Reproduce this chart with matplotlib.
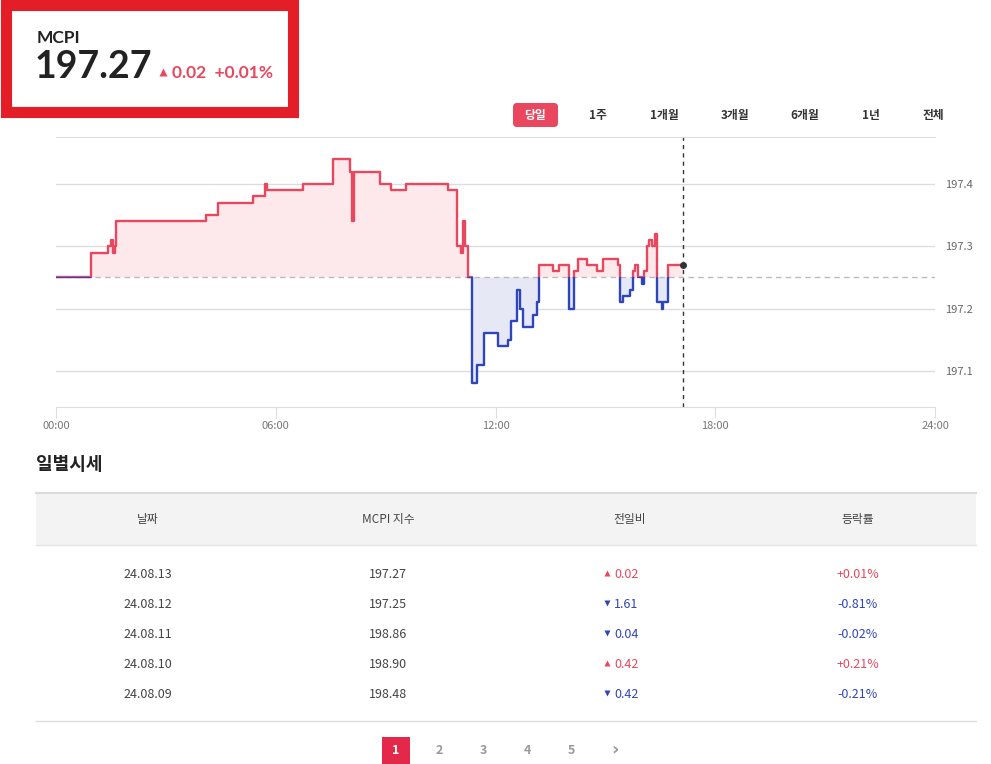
import matplotlib
matplotlib.use('Agg')
import matplotlib.pyplot as plt
from matplotlib.patches import Rectangle, FancyBboxPatch

plt.rcParams['font.family'] = ['Noto Sans CJK KR', 'DejaVu Sans']

# ---- data ----
times = [0.00, 0.95, 1.43, 1.50, 1.55, 1.60, 1.64, 4.10, 4.41, 5.39, 5.71, 5.75,
         6.75, 7.57, 8.03, 8.09, 8.14, 8.85, 9.16, 9.55, 10.71, 10.96, 11.05,
         11.12, 11.18, 11.26, 11.36, 11.50, 11.69, 12.08, 12.33, 12.41, 12.60,
         12.66, 12.75, 13.03, 13.12, 13.20, 13.56, 13.73, 14.02, 14.15, 14.24,
         14.49, 14.76, 14.93, 15.34, 15.40, 15.49, 15.67, 15.76, 15.81, 15.90,
         16.00, 16.06, 16.13, 16.20, 16.26, 16.35, 16.42, 16.54, 16.57, 16.70,
         17.13]
values = [197.25, 197.29, 197.30, 197.31, 197.29, 197.30, 197.34, 197.35, 197.37,
          197.38, 197.40, 197.39, 197.40, 197.44, 197.42, 197.34, 197.42, 197.40,
          197.39, 197.40, 197.39, 197.30, 197.29, 197.34, 197.30, 197.25, 197.08,
          197.11, 197.16, 197.14, 197.15, 197.18, 197.23, 197.20, 197.17, 197.19,
          197.21, 197.27, 197.26, 197.27, 197.20, 197.26, 197.28, 197.27, 197.26,
          197.28, 197.27, 197.21, 197.22, 197.23, 197.26, 197.27, 197.25, 197.24,
          197.26, 197.30, 197.31, 197.30, 197.32, 197.21, 197.20, 197.21, 197.27,
          197.27]
base_value = 197.25
current_time = 17.13
current_value = 197.27
change = 0.02
change_pct = 0.01

tab_labels = ['당일', '1주', '1개월', '3개월', '6개월', '1년', '전체']
x_ticks = [0, 6, 12, 18, 24]
x_tick_labels = ['00:00', '06:00', '12:00', '18:00', '24:00']
y_ticks = [197.1, 197.2, 197.3, 197.4]

table_header = ['날짜', 'MCPI 지수', '전일비', '등락률']
dates = ['24.08.13', '24.08.12', '24.08.11', '24.08.10', '24.08.09']
closes = [197.27, 197.25, 198.86, 198.90, 198.48]
diffs = [0.02, -1.61, -0.04, 0.42, -0.42]
pcts = [0.01, -0.81, -0.02, 0.21, -0.21]
pages = ['1', '2', '3', '4', '5', '›']

RED = '#e8475e'
PINK = '#fde8ec'
BLUE = '#2e45bb'
BLUE_FILL = '#e6e8f6'
W, H = 991, 764

fig = plt.figure(figsize=(W / 100, H / 100), dpi=100)
bg = fig.add_axes([0, 0, 1, 1])
bg.set_xlim(0, W)
bg.set_ylim(H, 0)
bg.axis('off')

# ---- header box ----
bg.add_patch(Rectangle((5.5, 5), 287, 106.5, fill=False, ec='#e41e26', lw=8))
bg.text(37, 38, 'MCPI', fontsize=12.5, fontweight='bold', family='Lato',
        color='#222', va='center', ha='left')
bg.text(35, 67, f'{current_value:.2f}', fontsize=27, fontweight='bold', family='Lato',
        color='#222', va='center', ha='left')
bg.plot(163, 72, marker='^', ms=6, color=RED, mec='none')
bg.text(172, 73, f'{change:.2f}  +{change_pct:.2f}%', fontsize=12.5, family='Lato',
        fontweight='bold', color=RED, va='center', ha='left')

# ---- period tabs ----
tab_x = [535, 598, 664, 735, 805, 871, 933]
bg.add_patch(FancyBboxPatch((513, 103), 45, 24, boxstyle='round,pad=0,rounding_size=4',
                            fc=RED, ec='none'))
for i, (lbl, x) in enumerate(zip(tab_labels, tab_x)):
    bg.text(x, 115, lbl, fontsize=8.5, fontweight='bold', va='center', ha='center',
            color='white' if i == 0 else '#333')

# ---- intraday chart ----
ax = fig.add_axes([56 / W, 1 - 407 / H, (935 - 56) / W, (407 - 137) / H])
ax.set_xlim(0, 24)
ax.set_ylim(197.042, 197.4754)
ax.patch.set_alpha(0)

above = Rectangle((0, base_value), 24, 1, transform=ax.transData)
below = Rectangle((0, base_value - 1), 24, 1, transform=ax.transData)
for clip, fc, lc in [(below, BLUE_FILL, BLUE), (above, PINK, RED)]:
    f = ax.fill_between(times, values, base_value, step='post', color=fc, lw=0)
    f.set_clip_path(clip)
    ln, = ax.plot(times, values, drawstyle='steps-post', color=lc, lw=1.7)
    ln.set_clip_path(clip)

ax.axhline(base_value, color='#bbbbbb', lw=1, ls=(0, (4, 3)), zorder=1)
ax.axvline(current_time, color='#333333', lw=1, ls=(0, (3, 3)))
ax.plot(current_time, current_value, 'o', color='#333333', ms=4, zorder=5)

ax.set_yticks(y_ticks)
ax.set_yticklabels([f'{v:.1f}' for v in y_ticks])
ax.yaxis.tick_right()
ax.grid(axis='y', color='#dddddd', lw=1)
ax.set_axisbelow(True)
ax.tick_params(axis='y', length=0, pad=7, labelsize=8, labelcolor='#666666')
ax.set_xticks(x_ticks)
ax.set_xticklabels(x_tick_labels)
ax.tick_params(axis='x', length=8, color='#dddddd', pad=2, labelsize=8, labelcolor='#777777')
for s in ['left', 'right']:
    ax.spines[s].set_visible(False)
for s in ['top', 'bottom']:
    ax.spines[s].set_color('#dddddd')

# ---- daily table ----
bg.text(36, 465, '일별시세', fontsize=13, fontweight='bold', color='#222', va='center', ha='left')
bg.add_patch(Rectangle((36, 492), 940, 53, fc='#f3f3f3', ec='none'))
bg.plot([36, 976], [493, 493], color='#dadada', lw=1.5)
bg.plot([36, 976], [545, 545], color='#e4e4e4', lw=1)
bg.plot([36, 976], [721, 721], color='#dddddd', lw=1)

col_x = [148, 388, 630, 858]
for lbl, x in zip(table_header, col_x):
    bg.text(x, 520, lbl, fontsize=8.5, color='#444', va='center', ha='center')

row_y = [574, 604, 634, 664, 694]
for d, c, df, p, y in zip(dates, closes, diffs, pcts, row_y):
    clr = RED if df > 0 else BLUE
    bg.text(col_x[0], y, d, fontsize=9, color='#444', va='center', ha='center')
    bg.text(col_x[1], y, f'{c:.2f}', fontsize=9, color='#444', va='center', ha='center')
    bg.plot(607, y - 1, marker='^' if df > 0 else 'v', ms=5, color=clr, mec='none')
    bg.text(614, y, f'{abs(df):.2f}', fontsize=9, color=clr, va='center', ha='left')
    bg.text(col_x[3], y, f'{p:+.2f}%', fontsize=9, color=clr, va='center', ha='center')

# ---- pagination ----
page_x = [396, 439, 483, 527, 571, 615]
bg.add_patch(Rectangle((382, 737), 28, 28, fc='#e3284a', ec='none'))
for i, (pg, x) in enumerate(zip(pages, page_x)):
    bg.text(x, 750 if pg == '›' else 751, pg, fontsize=13 if pg == '›' else 9,
            fontweight='bold', family=['DejaVu Sans'] if pg == '›' else None,
            va='center', ha='center', color='white' if i == 0 else '#999999')

fig.savefig('out.png', dpi=100)
